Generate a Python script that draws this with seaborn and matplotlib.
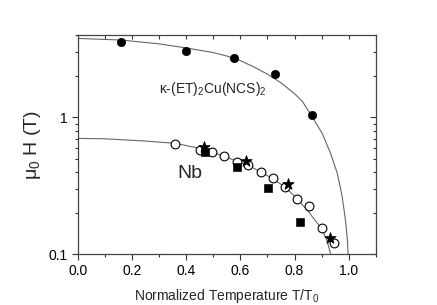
import matplotlib
matplotlib.use("Agg")
import matplotlib.pyplot as plt
import seaborn as sns
from matplotlib.ticker import MultipleLocator, LogLocator, FixedFormatter, FixedLocator

# filled circles: kappa-(ET)2Cu(NCS)2
et_t = [0.161, 0.398, 0.575, 0.728, 0.863]
et_h = [3.54, 3.05, 2.70, 2.07, 1.04]

# Nb open circles
nb_t = [0.360, 0.451, 0.496, 0.541, 0.588, 0.630, 0.676, 0.721, 0.765, 0.810, 0.855, 0.901, 0.945]
nb_h = [0.638, 0.577, 0.560, 0.521, 0.471, 0.450, 0.396, 0.358, 0.309, 0.254, 0.225, 0.156, 0.121]

# Nb stars
star_t = [0.464, 0.621, 0.775, 0.930]
star_h = [0.606, 0.481, 0.323, 0.132]

# Nb squares
sq_t = [0.471, 0.587, 0.703, 0.821]
sq_h = [0.560, 0.435, 0.302, 0.172]

# fit curves
et_fit_t = [0.0, 0.16, 0.3, 0.4, 0.5, 0.55, 0.6, 0.65, 0.7, 0.75, 0.8, 0.83, 0.861,
            0.902, 0.933, 0.958, 0.976, 0.988, 0.995, 0.998]
et_fit_h = [3.78, 3.68, 3.45, 3.22, 2.98, 2.81, 2.60, 2.34, 2.07, 1.79, 1.49, 1.30, 1.04,
            0.764, 0.545, 0.389, 0.262, 0.177, 0.127, 0.095]

nb_fit_t = [0.0, 0.1, 0.25, 0.362, 0.449, 0.541, 0.588, 0.63, 0.676, 0.721, 0.765,
            0.81, 0.855, 0.901, 0.92, 0.935]
nb_fit_h = [0.702, 0.697, 0.671, 0.645, 0.593, 0.52, 0.475, 0.445, 0.398, 0.355, 0.309,
            0.254, 0.20, 0.152, 0.125, 0.097]

sns.set_style("ticks")
plt.rcParams["font.family"] = ["Liberation Sans", "DejaVu Sans"]
plt.rcParams["mathtext.default"] = "regular"

fig = plt.figure(figsize=(4.37, 3.05), dpi=100)
ax = fig.add_axes([0.178, 0.167, 0.682, 0.718])

line_col = "#666666"
sns.lineplot(x=et_fit_t, y=et_fit_h, ax=ax, color=line_col, lw=0.8, sort=False)
sns.lineplot(x=nb_fit_t, y=nb_fit_h, ax=ax, color=line_col, lw=0.8, sort=False)

sns.scatterplot(x=et_t, y=et_h, ax=ax, marker="o", s=36, color="black", edgecolor="black", zorder=3)
sns.scatterplot(x=nb_t, y=nb_h, ax=ax, marker="o", s=40, facecolor="white", edgecolor="black", linewidth=0.8, zorder=3)
sns.scatterplot(x=sq_t, y=sq_h, ax=ax, marker="s", s=30, color="black", edgecolor="black", zorder=4)
sns.scatterplot(x=star_t, y=star_h, ax=ax, marker="*", s=70, color="black", edgecolor="black", zorder=5)

ax.set_yscale("log")
ax.set_xlim(0, 1.1)
ax.set_ylim(0.1, 4.0)

ax.xaxis.set_major_locator(FixedLocator([0.0, 0.2, 0.4, 0.6, 0.8, 1.0]))
ax.xaxis.set_minor_locator(MultipleLocator(0.1))
ax.set_xticklabels(["0.0", "0.2", "0.4", "0.6", "0.8", "1.0"])
ax.yaxis.set_major_locator(FixedLocator([0.1, 1]))
ax.yaxis.set_major_formatter(FixedFormatter(["0.1", "1"]))
ax.yaxis.set_minor_locator(LogLocator(base=10, subs=range(2, 10)))
ax.yaxis.set_minor_formatter(FixedFormatter([]))

ax.tick_params(which="both", direction="out", top=False, right=False, labelsize=10, colors="#333333", labelcolor="black")
ax.tick_params(which="major", length=4, width=0.8)
ax.tick_params(which="minor", length=2.5, width=0.8)

# inward ticks on top and right
ax2 = ax.secondary_xaxis("top")
ax2.xaxis.set_major_locator(MultipleLocator(0.1))
ax2.tick_params(direction="in", length=3, width=0.8, labeltop=False, colors="#333333")
ax3 = ax.secondary_yaxis("right")
ax3.yaxis.set_major_locator(FixedLocator([0.1, 1]))
ax3.yaxis.set_minor_locator(LogLocator(base=10, subs=range(2, 10)))
ax3.tick_params(which="both", direction="in", labelright=False, colors="#333333")
ax3.tick_params(which="major", length=4, width=0.8)
ax3.tick_params(which="minor", length=2.5, width=0.8)

for sp in ax.spines.values():
    sp.set_visible(True)
    sp.set_color("#444444")
    sp.set_linewidth(0.9)
ax2.spines["top"].set_visible(False)
ax3.spines["right"].set_visible(False)

ax.text(0.299, 1.61, "κ-(ET)$_2$Cu(NCS)$_2$", fontsize=10, va="center", ha="left")
ax.text(0.412, 0.389, "Nb", fontsize=14, va="center", ha="center")

ax.set_xlabel("Normalized Temperature T/T$_0$", fontsize=10, labelpad=6)
ax.set_ylabel("μ$_0$ H (T)", fontsize=14, labelpad=4)

fig.savefig("out.png", dpi=100)
